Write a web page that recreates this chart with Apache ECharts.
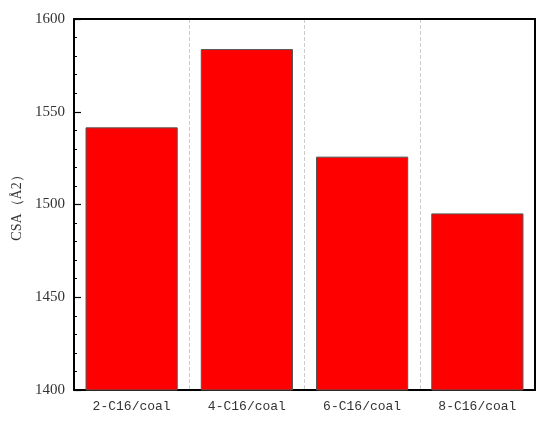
<!DOCTYPE html>
<html><head><meta charset="utf-8">
<script src="https://cdn.jsdelivr.net/npm/echarts@6/dist/echarts.min.js"></script>
<style>html,body{margin:0;padding:0;background:#fff}#c{width:550px;height:425px}</style>
</head><body><div id="c"></div>
<script>
const categories = ['2-C16/coal', '4-C16/coal', '6-C16/coal', '8-C16/coal'];
const csaValues = [1541.6, 1583.8, 1525.8, 1495.2];
const yTicks = [1400, 1450, 1500, 1550, 1600];

const serif = '"Liberation Serif", "DejaVu Serif", serif';
const mono = '"Liberation Mono", "DejaVu Sans Mono", monospace';
const chart = echarts.init(document.getElementById('c'), null, {renderer: 'canvas'});
const frameLine = {show: true, lineStyle: {color: '#000', width: 2}};
chart.setOption({
  animation: false,
  grid: {left: 74, right: 15, top: 19, bottom: 35, show: false},
  xAxis: [{
    type: 'category', data: categories,
    axisLine: frameLine,
    axisTick: {show: false},
    axisLabel: {fontFamily: mono, fontSize: 13, color: '#333', margin: 10},
    splitLine: {show: true, interval: function (i) { return i > 0 && i < categories.length; }, lineStyle: {color: '#ccc', type: 'dashed', width: 1}}
  }, {
    type: 'category', data: categories, position: 'top',
    axisLine: frameLine, axisTick: {show: false}, axisLabel: {show: false}, splitLine: {show: false}
  }],
  yAxis: [{
    type: 'value', min: yTicks[0], max: yTicks[yTicks.length - 1], interval: 50,
    name: 'CSA（Å2）', nameLocation: 'middle', nameGap: 37,
    nameTextStyle: {fontFamily: serif, fontSize: 14, color: '#333'},
    axisLine: frameLine,
    axisTick: {show: true, inside: true, length: 7, lineStyle: {color: '#000', width: 1.2}},
    minorTick: {show: true, splitNumber: 5, length: 3, lineStyle: {color: '#000', width: 1}},
    axisLabel: {fontFamily: serif, fontSize: 15, color: '#333', margin: 9, formatter: function (v) { return String(v); }},
    splitLine: {show: false}
  }, {
    type: 'value', min: yTicks[0], max: yTicks[yTicks.length - 1], interval: 50, position: 'right',
    axisLine: frameLine, axisTick: {show: false}, axisLabel: {show: false}, splitLine: {show: false}
  }],
  series: [{
    type: 'bar', data: csaValues, barWidth: '80%',
    itemStyle: {color: '#ff0000', borderColor: '#555', borderWidth: 1}
  }]
});
</script></body></html>
